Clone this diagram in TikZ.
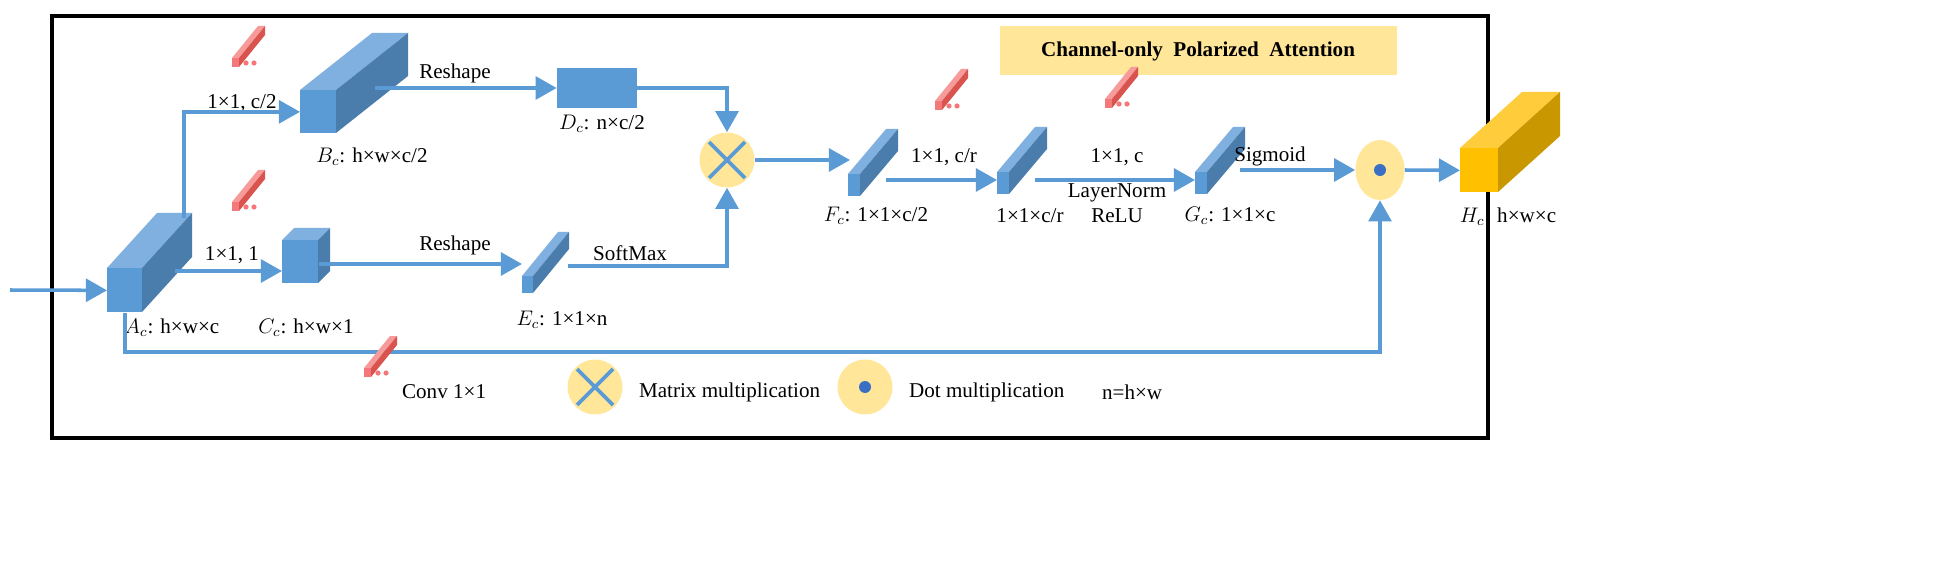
\documentclass[tikz,border=0pt]{standalone}
\usepackage{fontspec}
\setmainfont{Liberation Serif}
\usetikzlibrary{arrows.meta,calc,shapes.geometric}
\definecolor{bf}{HTML}{5B9BD5}\definecolor{bt}{HTML}{7FB0DF}\definecolor{bs}{HTML}{4A7DAC}
\definecolor{rf}{HTML}{F4777A}\definecolor{rt}{HTML}{F79A9A}\definecolor{rs}{HTML}{D9534F}
\definecolor{yf}{HTML}{FFC000}\definecolor{yt}{HTML}{FFCD3C}\definecolor{ys}{HTML}{C99800}
\definecolor{lyel}{HTML}{FFE699}\definecolor{dotb}{HTML}{3A6FC4}
% #1 name #2 x #3 y (top-left of front) #4 w #5 h #6 dx #7 dy #8 colour prefix
\newcommand\mycub[8]{%
 \fill[#8t] (#2,#3) -- ++(#6,-#7) -- ++(#4,0) -- ++(-#6,#7) -- cycle;
 \fill[#8s] (#2+#4,#3) -- ++(#6,-#7) -- ++(0,#5) -- ++(-#6,#7) -- cycle;
 \node[fill=#8f,inner sep=0,minimum width=#4*0.02cm,minimum height=#5*0.02cm,anchor=north west] (#1) at (#2,#3) {};}
\newcommand\conv[3]{% name x y
 \mycub{#1}{#2}{#3}{7}{9}{26}{32}{r}
 \fill[rf] (#2+14,#3+5) circle (2.6) (#2+22,#3+5) circle (2.6);}
\newcommand\xmark[1]{\draw[bf,line width=2.2pt] ($(#1)+(-18,-18)$) -- ($(#1)+(18,18)$) ($(#1)+(18,-18)$) -- ($(#1)+(-18,18)$);}
\tikzset{x=0.02cm,y=-0.02cm,
 ar/.style={draw=bf,line width=2pt,-{Triangle[length=12pt,width=13pt]}},
 lb/.style={font=\fontsize{12}{14}\selectfont,inner sep=1pt},
 mm/.style={circle,fill=lyel,minimum size=1.1cm,inner sep=0},
 dm/.style={ellipse,fill=lyel,minimum width=0.98cm,minimum height=1.2cm,inner sep=0}}
\begin{document}
\begin{tikzpicture}
\useasboundingbox (0,0) rectangle (1950,564);
\fill[white] (0,0) rectangle (1950,564);
\draw[line width=2.4pt] (52,16) rectangle (1488,438);
\node[fill=lyel,minimum width=397*0.02cm,minimum height=49*0.02cm,font=\bfseries\fontsize{12}{14}\selectfont] (title) at (1198,51) {Channel-only\ \ Polarized\ \ Attention};
% boxes
\mycub{A}{107}{268}{35}{44}{50}{55}{b}
\mycub{B}{300}{90}{36}{43}{72}{57}{b}
\mycub{C}{282}{240}{36}{43}{12}{12}{b}
\node[fill=bf,minimum width=80*0.02cm,minimum height=40*0.02cm,inner sep=0] (D) at (597,88) {};
\mycub{E}{522}{276}{11}{17}{36}{44}{b}
\mycub{F}{848}{174}{12}{22}{38}{45}{b}
\mycub{Fr}{997}{172}{12}{22}{38}{45}{b}
\mycub{G}{1195}{172}{12}{22}{38}{45}{b}
\mycub{H}{1460}{148}{38}{44}{62}{56}{y}
\node[mm] (X) at (727,160) {};
\xmark{X}
\node[dm] (Dot) at (1380,170) {};
\fill[dotb] (Dot) circle (6);
% conv icons
\conv{c1}{232}{58} \conv{c2}{232}{202} \conv{c3}{935}{101} \conv{c4}{1105}{99}
% labels
\node[lb] at (172,328) {$A_c$: h×w×c};
\node[lb] at (372,157) {$B_c$: h×w×c/2};
\node[lb] at (306,328) {$C_c$: h×w×1};
\node[lb] at (602,124) {$D_c$: n×c/2};
\node[lb] at (562,320) {$E_c$: 1×1×n};
\node[lb] at (876,216) {$F_c$: 1×1×c/2};
\node[lb] at (1030,216) {1×1×c/r};
\node[lb] at (1230,216) {$G_c$: 1×1×c};
\node[lb] at (1508,217) {$H_c$: h×w×c};
\node[lb] at (242,103) {1×1, c/2};
\node[lb] at (232,255) {1×1, 1};
\node[lb] at (455,73) {Reshape};
\node[lb] at (455,245) {Reshape};
\node[lb] at (630,253) {SoftMax};
\node[lb] at (944,157) {1×1, c/r};
\node[lb] at (1117,157) {1×1, c};
\node[lb,align=center] at (1117,203) {LayerNorm\\ReLU};
\node[lb] at (1270,156) {Sigmoid};
% connectors
\coordinate (in) at (10,290);
\draw[ar] (in) -- (A.west);
\draw[ar] (184,218) |- (B.west);
\draw[ar] (175,271) -- (C.west |- 0,271);
\draw[ar] (375,88) -- (D.west);
\draw[ar] (D.east) -| (X.north);
\draw[ar] (C.east |- 0,264) -- (522,264);
\draw[ar] (568,266) -| (X.south);
\draw[ar] (X.east) -- (850,160);
\draw[ar] (886,180) -- (997,180);
\draw[ar] (1035,180) -- (1195,180);
\draw[ar] (1240,170) -- (Dot.west);
\draw[ar] (A.south) |- (1000,352) -| (Dot.south);
\draw[ar] (Dot.east) -- (H.west);
% legend
\conv{l1}{364}{368}
\node[lb,anchor=west] at (400,392) {Conv 1×1};
\node[mm] (lX) at (595,387) {};
\xmark{lX}
\node[lb,anchor=west] at (637,392) {Matrix multiplication};
\node[mm] (lD) at (865,387) {};
\fill[dotb] (lD) circle (6);
\node[lb,anchor=west] at (907,392) {Dot multiplication};
\node[lb,anchor=west] at (1100,392) {n=h×w};
\end{tikzpicture}
\end{document}
